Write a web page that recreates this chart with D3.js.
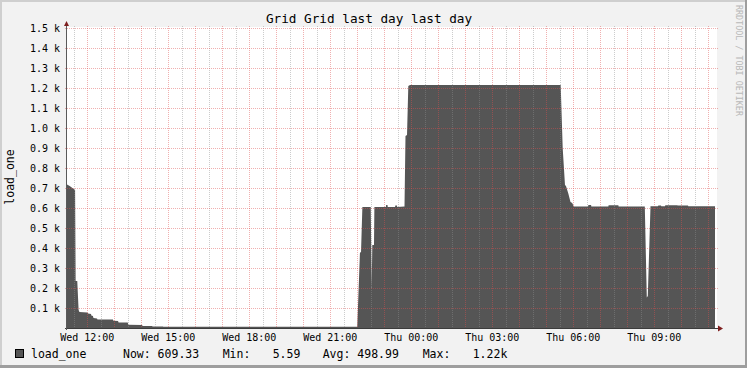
<!DOCTYPE html>
<html>
<head>
<meta charset="utf-8">
<script src="https://cdn.jsdelivr.net/npm/d3@7"></script>
<style>
  body { margin: 0; background: #f2f2f2; }
  svg text { font-family: "DejaVu Sans Mono", monospace; }
</style>
</head>
<body>
<svg id="chart" width="747" height="368"></svg>
<script>
// load_one samples: hours since Wed 00:00 and value
const hours = [11.25, 11.35, 11.45, 11.55, 11.57, 11.63, 11.68, 11.71, 12.0, 12.03, 12.14, 12.15, 12.21, 12.23,
  12.36, 12.38, 12.95, 12.97, 13.14, 13.16, 13.5, 13.52, 14.03, 14.05, 14.4, 14.42, 14.8, 14.82, 22.0,
  22.1, 22.14, 22.19, 22.5, 22.535, 22.557, 22.62, 22.635, 23.06, 23.07, 23.12, 23.13, 23.4, 23.41, 23.47,
  23.48, 23.75, 23.787, 23.843, 23.891, 23.954, 29.535, 29.609, 29.694, 29.731, 29.817, 29.898, 29.961,
  30.02, 30.55, 30.56, 30.66, 30.67, 31.3, 31.31, 31.67, 31.68, 32.65, 32.724, 32.761, 32.861, 33.14,
  33.15, 33.25, 33.26, 33.4, 33.41, 33.84, 33.88, 34.25, 34.26, 35.25]
const load = [718, 710, 700, 690, 235, 235, 90, 80, 77, 72, 70, 62, 60, 50,
  48, 43, 42, 36, 35, 28, 27, 16, 15, 10, 10, 7, 7, 6, 6,
  376, 380, 605, 605, 200, 415, 415, 605, 605, 615, 615, 605, 605, 612, 612,
  605, 608, 960, 965, 1210, 1215, 1215, 900, 715, 710, 673, 630, 625,
  607, 607, 615, 615, 607, 607, 614, 614, 607, 607, 153, 160, 609, 609,
  613, 613, 609, 609, 614, 614, 612, 613, 609, 609.33]

const yTicks = [100, 200, 300, 400, 500, 600, 700, 800, 900, 1000, 1100, 1200, 1300, 1400, 1500]
const xLabelHours = [12, 15, 18, 21, 24, 27, 30, 33]
const xLabels = ["Wed 12:00", "Wed 15:00", "Wed 18:00", "Wed 21:00", "Thu 00:00", "Thu 03:00", "Thu 06:00", "Thu 09:00"]
const legendTexts = [
  {x: 31, t: "load_one"}, {x: 123, t: "Now: 609.33"}, {x: 222.7, t: "Min:"}, {x: 272.7, t: "5.59"},
  {x: 322.7, t: "Avg: 498.99"}, {x: 422.7, t: "Max:"}, {x: 472.7, t: "1.22k"}
]

const svg = d3.select("#chart")
const pLeft = 67, pRight = 715, pTop = 28, pBottom = 328

const x = d3.scaleLinear().domain([11.25, 35.25]).range([pLeft, pRight])
const y = d3.scaleLinear().domain([0, 1500]).range([pBottom, pTop])

// background and frame
svg.append("rect").attr("width", 747).attr("height", 368).attr("fill", "#f2f2f2")
svg.append("rect").attr("x", 0).attr("y", 0).attr("width", 747).attr("height", 2).attr("fill", "#cfcfcf")
svg.append("rect").attr("x", 0).attr("y", 0).attr("width", 2).attr("height", 368).attr("fill", "#cfcfcf")
svg.append("rect").attr("x", 0).attr("y", 365).attr("width", 747).attr("height", 3).attr("fill", "#9e9e9e")
svg.append("rect").attr("x", 745).attr("y", 0).attr("width", 2).attr("height", 368).attr("fill", "#9e9e9e")

// canvas
svg.append("rect").attr("x", pLeft).attr("y", pTop - 1).attr("width", pRight - pLeft + 2)
  .attr("height", pBottom - pTop + 1).attr("fill", "#ffffff")

// area
const area = d3.area()
  .x((d, i) => x(hours[i]))
  .y0(y(0))
  .y1(d => y(d))
svg.append("path").datum(load).attr("d", area).attr("fill", "#555555")

// grid
const grid = svg.append("g").attr("shape-rendering", "crispEdges")
const minorHours = d3.range(11.5, 35.25, 0.5).filter(h => h % 1 !== 0)
const majorHours = d3.range(12, 35.25, 1)

grid.selectAll(".minor").data(minorHours).enter().append("line")
  .attr("x1", d => Math.round(x(d)) + 0.5).attr("x2", d => Math.round(x(d)) + 0.5)
  .attr("y1", pTop - 2).attr("y2", pBottom + 2)
  .attr("stroke", "rgba(143,143,143,0.45)").attr("stroke-dasharray", "1,1")

grid.selectAll(".major").data(majorHours).enter().append("line")
  .attr("x1", d => Math.round(x(d)) + 0.5).attr("x2", d => Math.round(x(d)) + 0.5)
  .attr("y1", pTop - 2).attr("y2", pBottom + 2)
  .attr("stroke", "rgba(222,79,79,0.45)").attr("stroke-dasharray", "1,1")

grid.selectAll(".hline").data(yTicks).enter().append("line")
  .attr("x1", pLeft - 2).attr("x2", pRight + 3)
  .attr("y1", d => Math.round(y(d)) + 0.5).attr("y2", d => Math.round(y(d)) + 0.5)
  .attr("stroke", "rgba(222,79,79,0.45)").attr("stroke-dasharray", "1,1")

// axes
svg.append("line").attr("x1", pLeft - 2).attr("x2", pRight + 4).attr("y1", pBottom + 0.5).attr("y2", pBottom + 0.5)
  .attr("stroke", "#3c3c3c")
svg.append("line").attr("x1", pLeft - 0.5).attr("x2", pLeft - 0.5).attr("y1", pBottom + 2).attr("y2", pTop - 4)
  .attr("stroke", "#5a5a5a")
svg.append("path").attr("d", `M${pRight + 3},${pBottom - 2.5}L${pRight + 8},${pBottom + 0.5}L${pRight + 3},${pBottom + 3.5}Z`)
  .attr("fill", "#7f1f1f")
svg.append("path").attr("d", `M${pLeft - 3},${pTop - 2}L${pLeft - 0.5},${pTop - 7}L${pLeft + 2},${pTop - 2}Z`)
  .attr("fill", "#7f1f1f")

// y tick labels
svg.selectAll(".ylab").data(yTicks).enter().append("text")
  .attr("x", 60).attr("y", d => y(d) + 3.7)
  .attr("text-anchor", "end").attr("font-size", 10).attr("fill", "#000")
  .text(d => d3.format(".1f")(d / 1000) + " k")

// x tick labels
svg.selectAll(".xlab").data(xLabelHours).enter().append("text")
  .attr("x", d => x(d)).attr("y", 341)
  .attr("text-anchor", "middle").attr("font-size", 10).attr("fill", "#000")
  .text((d, i) => xLabels[i])

// title
svg.append("text").attr("x", 369).attr("y", 23).attr("text-anchor", "middle")
  .attr("font-size", 12.7).attr("fill", "#000").text("Grid Grid last day last day")

// y axis title
svg.append("text").attr("transform", "translate(13.5,177) rotate(-90)")
  .attr("text-anchor", "middle").attr("font-size", 11.5).attr("fill", "#000").text("load_one")

// watermark
svg.append("text").attr("transform", "translate(735.5,5) rotate(90)")
  .attr("font-size", 8.4).attr("fill", "#b8b8b8").text("RRDTOOL / TOBI OETIKER")

// legend
svg.append("rect").attr("x", 15.5).attr("y", 349.5).attr("width", 8).attr("height", 8)
  .attr("fill", "#555555").attr("stroke", "#000")
svg.selectAll(".leg").data(legendTexts).enter().append("text")
  .attr("x", d => d.x).attr("y", 358).attr("font-size", 11.5).attr("fill", "#000")
  .text(d => d.t)
</script>
</body>
</html>
